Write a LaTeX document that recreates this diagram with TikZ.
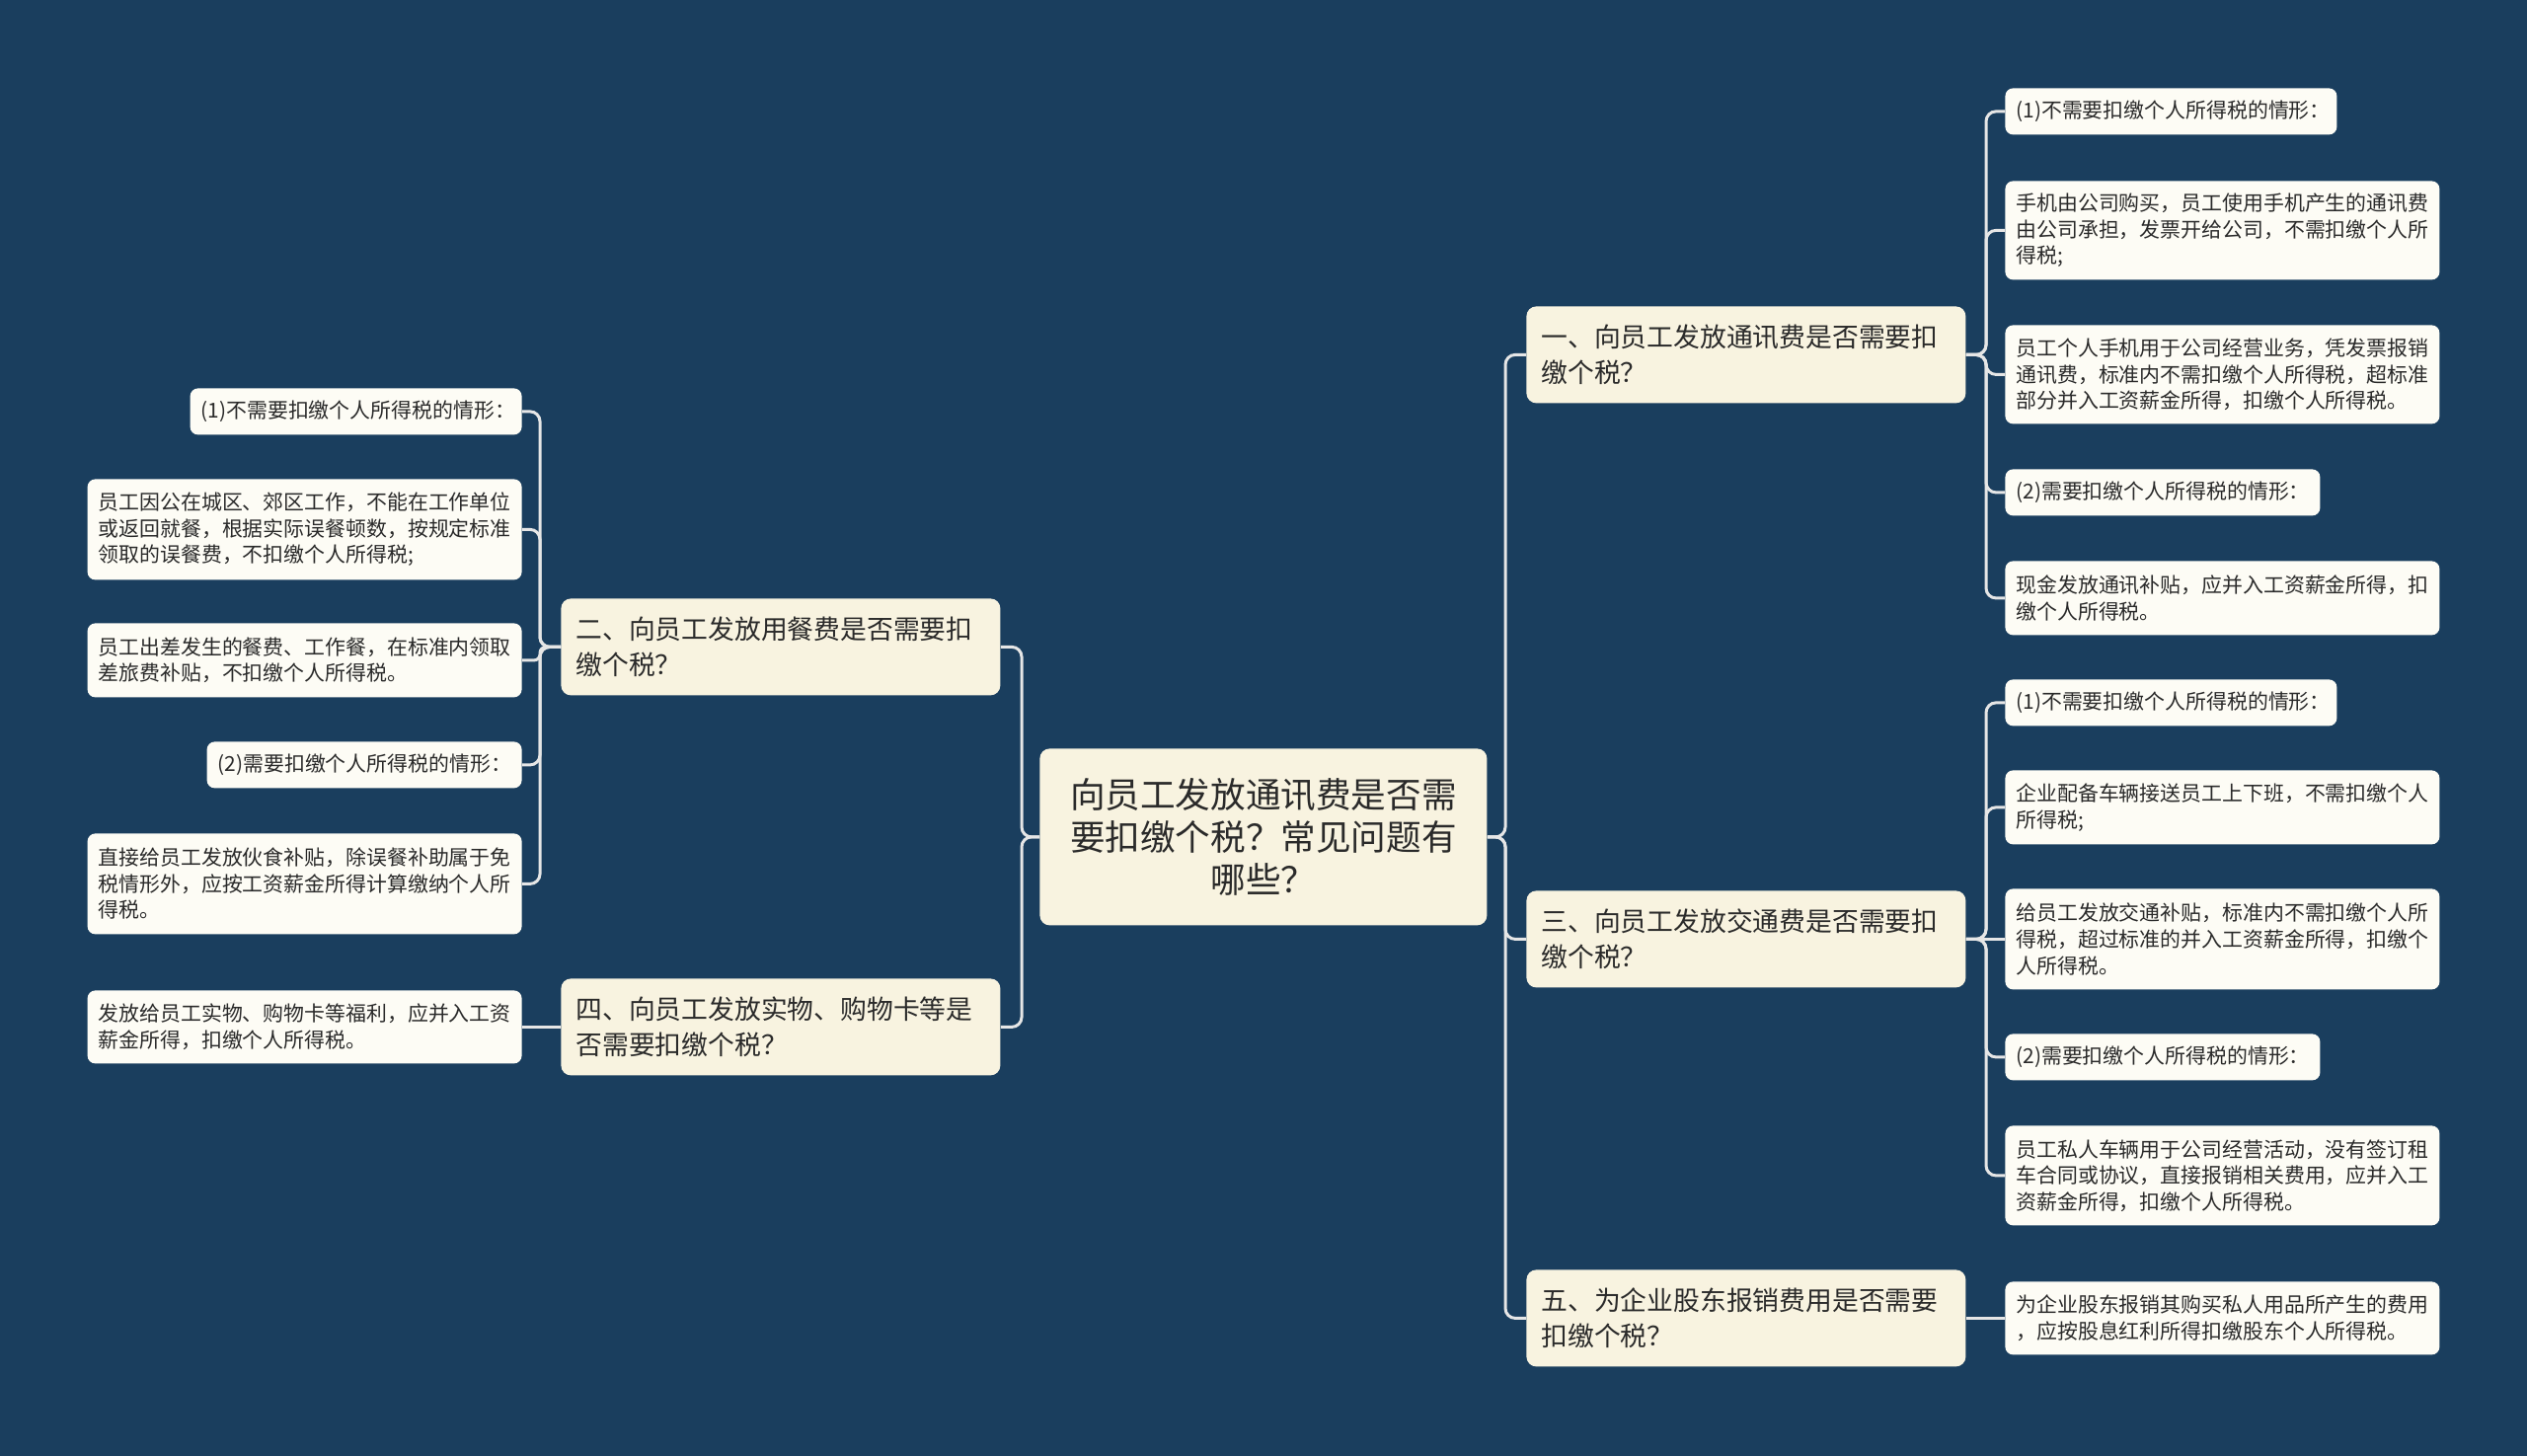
\documentclass[tikz,border=0pt]{standalone}
\usepackage{fontspec}
\setmainfont{Noto Sans CJK SC}
\definecolor{bgc}{HTML}{1A3E5E}
\definecolor{rootc}{HTML}{F8F3E0}
\definecolor{leafc}{HTML}{FDFCF5}
\definecolor{txt}{HTML}{2A2A2A}
\definecolor{linec}{HTML}{E6E6E6}
\tikzset{
 rootbox/.style={fill=rootc, rounded corners=5pt, text=txt, font=\fontsize{17.8}{21.7}\selectfont, align=center, text width=210pt, inner xsep=8.25pt, inner ysep=0pt, minimum height=89.5pt, anchor=north west},
 topic/.style={fill=rootc, rounded corners=5pt, text=txt, font=\fontsize{13.4}{18.3}\selectfont, align=left, text width=207.5pt, inner xsep=7.5pt, inner ysep=0pt, minimum height=49pt},
 leaf/.style={fill=leafc, rounded corners=4pt, text=txt, font=\fontsize{10.45}{13.3}\selectfont, align=left, inner xsep=5.5pt, inner ysep=0pt},
 wide/.style={leaf, text width=209pt},
 shortA/.style={leaf, text width=157pt, minimum height=23.5pt},
 shortB/.style={leaf, text width=148.5pt, minimum height=23.5pt},
 conn/.style={draw=linec, line width=1.5pt, rounded corners=5pt},
}
\begin{document}
\begin{tikzpicture}[x=0.5pt,y=-0.5pt]
\fill[bgc] (0,0) rectangle (2560,1475);
\useasboundingbox (0,0) rectangle (2560,1475);

% root
\node[rootbox] (root) at (1053,758) {向员工发放通讯费是否需\\要扣缴个税？常见问题有\\哪些？};

% level 1
\node[topic, anchor=north west] (n1) at (1546,310) {一、向员工发放通讯费是否需要扣\\缴个税？};
\node[topic, anchor=north west] (n3) at (1546,902) {三、向员工发放交通费是否需要扣\\缴个税？};
\node[topic, anchor=north west] (n5) at (1546,1286) {五、为企业股东报销费用是否需要\\扣缴个税？};
\node[topic, anchor=north west] (n2) at (568,606) {二、向员工发放用餐费是否需要扣\\缴个税？};
\node[topic, anchor=north west] (n4) at (568,991) {四、向员工发放实物、购物卡等是\\否需要扣缴个税？};

% right leaves
\node[shortA, anchor=north west] (a1) at (2031,89) {(1)不需要扣缴个人所得税的情形：};
\node[wide, anchor=north west, minimum height=50pt] (a2) at (2031,183) {手机由公司购买，员工使用手机产生的通讯费\\由公司承担，发票开给公司，不需扣缴个人所\\得税;};
\node[wide, anchor=north west, minimum height=50pt] (a3) at (2031,329) {员工个人手机用于公司经营业务，凭发票报销\\通讯费，标准内不需扣缴个人所得税，超标准\\部分并入工资薪金所得，扣缴个人所得税。};
\node[shortB, anchor=north west] (a4) at (2031,475) {(2)需要扣缴个人所得税的情形：};
\node[wide, anchor=north west, minimum height=37.5pt] (a5) at (2031,568) {现金发放通讯补贴，应并入工资薪金所得，扣\\缴个人所得税。};

\node[shortA, anchor=north west] (b1) at (2031,688) {(1)不需要扣缴个人所得税的情形：};
\node[wide, anchor=north west, minimum height=37.5pt] (b2) at (2031,780) {企业配备车辆接送员工上下班，不需扣缴个人\\所得税;};
\node[wide, anchor=north west, minimum height=51pt] (b3) at (2031,900) {给员工发放交通补贴，标准内不需扣缴个人所\\得税，超过标准的并入工资薪金所得，扣缴个\\人所得税。};
\node[shortB, anchor=north west] (b4) at (2031,1047) {(2)需要扣缴个人所得税的情形：};
\node[wide, anchor=north west, minimum height=50.5pt] (b5) at (2031,1140) {员工私人车辆用于公司经营活动，没有签订租\\车合同或协议，直接报销相关费用，应并入工\\资薪金所得，扣缴个人所得税。};

\node[wide, anchor=north west, minimum height=37pt] (c1) at (2031,1298) {为企业股东报销其购买私人用品所产生的费用\\，应按股息红利所得扣缴股东个人所得税。};

% left leaves
\node[shortA, anchor=north east] (d1) at (529,393) {(1)不需要扣缴个人所得税的情形：};
\node[wide, anchor=north east, minimum height=51pt] (d2) at (529,485) {员工因公在城区、郊区工作，不能在工作单位\\或返回就餐，根据实际误餐顿数，按规定标准\\领取的误餐费，不扣缴个人所得税;};
\node[wide, anchor=north east, minimum height=37.5pt] (d3) at (529,631) {员工出差发生的餐费、工作餐，在标准内领取\\差旅费补贴，不扣缴个人所得税。};
\node[shortB, anchor=north east] (d4) at (529,751) {(2)需要扣缴个人所得税的情形：};
\node[wide, anchor=north east, minimum height=51pt] (d5) at (529,844) {直接给员工发放伙食补贴，除误餐补助属于免\\税情形外，应按工资薪金所得计算缴纳个人所\\得税。};

\node[wide, anchor=north east, minimum height=37pt] (e1) at (529,1003) {发放给员工实物、购物卡等福利，应并入工资\\薪金所得，扣缴个人所得税。};

% trunk coordinates
\coordinate (tR) at (1525,0);
\coordinate (tL) at (1035,0);
\coordinate (t1) at (2012,0);
\coordinate (t3) at (2012,0);
\coordinate (t2) at (547,0);

% root connectors
\foreach \n in {n1,n3,n5}{
  \draw[conn] (root.east) -- (root.east -| tR) |- (\n.west);
}
\foreach \n in {n2,n4}{
  \draw[conn] (root.west) -- (root.west -| tL) |- (\n.east);
}

% group 1
\foreach \n in {a1,a2,a3,a4,a5}{
  \draw[conn] (n1.east) -- (n1.east -| t1) |- (\n.west);
}
% group 3
\foreach \n in {b1,b2,b4,b5}{
  \draw[conn] (n3.east) -- (n3.east -| t3) |- (\n.west);
}
\draw[conn] (n3.east) -- (b3.west);
% group 5
\draw[conn] (n5.east) -- (c1.west);
% group 2
\foreach \n in {d1,d2,d4,d5}{
  \draw[conn] (n2.west) -- (n2.west -| t2) |- (\n.east);
}
\draw[conn, rounded corners=3pt] (n2.west) -- (n2.west -| t2) |- (d3.east);
% group 4
\draw[conn] (n4.west) -- (e1.east);
\end{tikzpicture}
\end{document}
